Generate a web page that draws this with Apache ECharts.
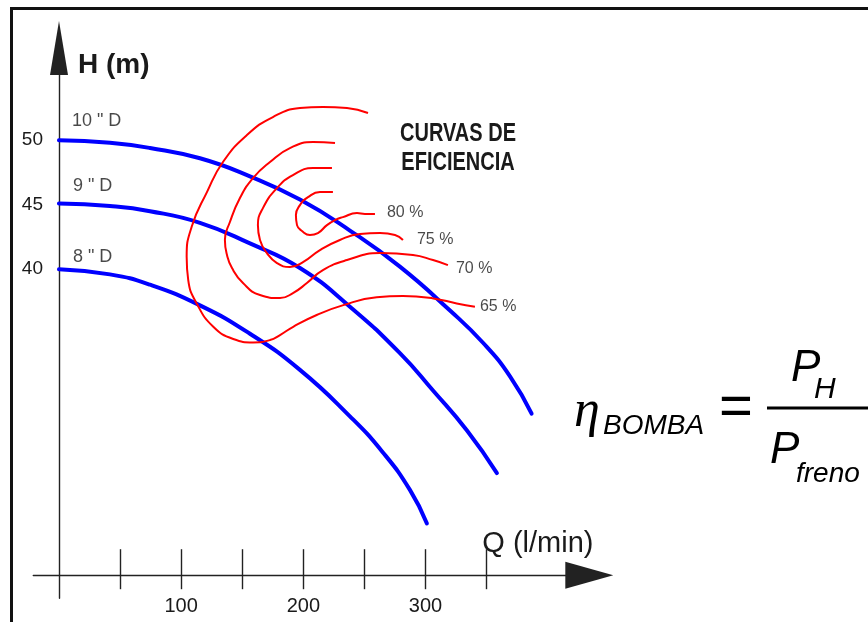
<!DOCTYPE html>
<html>
<head>
<meta charset="utf-8">
<title>Curvas de bomba</title>
<script src="https://cdn.jsdelivr.net/npm/echarts@6/dist/echarts.min.js"></script>
<style>
  html, body { margin: 0; padding: 0; background: #ffffff; }
  #chart { width: 868px; height: 622px; }
</style>
</head>
<body>
<div id="chart"></div>
<script>
// Head curves H(Q) for three impeller diameters: [Q (l/min), H (m)]
const curve10D = [[0, 50], [41.7, 49.8], [74.5, 49.4], [115.4, 48.6], [156.3, 47.2], [197.2, 45.4], [238.1, 43.0], [279.0, 40.2], [320.0, 36.8], [347.0, 34.3], [369.1, 31.7], [386.8, 28.8]];
const curve9D  = [[0, 45.1], [41.7, 44.9], [74.5, 44.5], [115.4, 43.6], [156.3, 42.0], [197.2, 40.1], [238.1, 37.1], [279.0, 33.5], [306.1, 30.6], [333.9, 27.5], [358.4, 24.2]];
const curve8D  = [[0, 40], [41.7, 39.6], [74.5, 38.8], [115.4, 37.2], [156.3, 35.0], [197.2, 32.2], [238.1, 28.6], [265.1, 25.8], [287.2, 22.9], [301.1, 20.3]];
const diameterNames = ['10 " D', '9 " D', '8 " D'];

// Iso-efficiency contours, traced from the open upper end around to the labelled end
const eff80 = [[224.2, 45.98], [213.6, 45.98], [203.8, 45.59], [197.2, 44.97], [193.9, 44.20], [194.8, 43.42], [198.9, 42.96], [205.4, 42.65], [211.9, 42.80], [219.3, 43.42], [225.9, 43.81], [232.4, 44.04], [243.9, 44.35], [250.4, 44.28], [258.6, 44.28]];
const eff75 = [[223.4, 47.84], [207.9, 47.84], [191.5, 47.30], [178.4, 46.29], [166.9, 44.74], [162.8, 43.42], [164.5, 42.27], [170.2, 41.25], [178.4, 40.48], [189.0, 40.17], [199.7, 40.55], [213.6, 41.49], [229.9, 42.27], [246.3, 42.73], [262.7, 42.80], [275.0, 42.65], [281.5, 42.27]];
const eff70 = [[225.9, 49.78], [207.9, 49.86], [189.0, 49.39], [172.7, 48.31], [158.8, 47.07], [148.1, 45.52], [139.9, 43.66], [135.8, 42.27], [137.5, 41.10], [141.6, 40.09], [150.6, 38.93], [164.5, 38.00], [180.9, 37.77], [191.5, 38.15], [202.9, 38.93], [216.0, 39.94], [235.7, 40.71], [262.7, 41.25], [289.7, 41.10], [306.1, 40.71], [318.3, 40.32]];
const eff65 = [[252.9, 52.11], [235.7, 52.49], [216.0, 52.57], [197.2, 52.49], [175.1, 51.80], [153.8, 50.40], [134.2, 48.31], [121.1, 45.98], [108.6, 43.29], [104.5, 40.97], [105.8, 39.16], [112.7, 37.35], [126.3, 35.54], [142.6, 34.59], [159.0, 34.33], [172.7, 34.51], [180.9, 34.90], [191.7, 35.54], [210.9, 36.45], [232.7, 37.22], [260.0, 37.82], [281.5, 37.92], [306.3, 37.74], [325.5, 37.35], [340.4, 37.09]];
const effNames = ['80 %', '75 %', '70 %', '65 %'];

// Axis marks
const xTickValues = [50, 100, 150, 200, 250, 300, 350];
const xLabelValues = [100, 200, 300];
const yLabelValues = [40, 45, 50];

const headCurves = [curve10D, curve9D, curve8D];
const effCurves = [eff80, eff75, eff70, eff65];

// Label placement (style only)
const diameterLabelOffsets = [[13, -19], [14, -17], [14, -12]];
const effLabelOffsets = [[12, -1], [14, 0], [8, 3], [5, 0]];

const SANS = "'Liberation Sans', Arial, Helvetica, sans-serif";
const INK = '#1a1a1a';
const AXIS = '#222222';

const X_MIN = -21, X_MAX = 434;
const Y_MIN = 14.5, Y_MAX = 57.15;
const GRID_LEFT = 33.3;
const ORIGIN_X = 59;

const chart = echarts.init(document.getElementById('chart'), null, { renderer: 'canvas' });

const series = [];

headCurves.forEach((pts, i) => {
  series.push({
    name: diameterNames[i],
    type: 'line',
    data: pts,
    smooth: 0.5,
    showSymbol: false,
    silent: true,
    lineStyle: { color: '#0000ff', width: 4, cap: 'round' },
    z: 3
  });
});

effCurves.forEach((pts, i) => {
  series.push({
    name: effNames[i],
    type: 'line',
    data: pts,
    smooth: 0.5,
    showSymbol: false,
    silent: true,
    lineStyle: { color: '#ff0000', width: 2 },
    z: 4
  });
});

// Text on the curves: diameter names at the start, efficiencies at the end
series.push({
  type: 'scatter',
  silent: true,
  symbolSize: 0,
  z: 6,
  data: headCurves.map((pts, i) => ({
    value: pts[0],
    label: {
      show: true,
      formatter: diameterNames[i],
      position: 'right',
      distance: diameterLabelOffsets[i][0],
      offset: [0, diameterLabelOffsets[i][1]],
      color: INK,
      fontFamily: SANS,
      fontSize: 18
    }
  })).concat(effCurves.map((pts, i) => ({
    value: pts[pts.length - 1],
    label: {
      show: true,
      formatter: effNames[i],
      position: 'right',
      distance: effLabelOffsets[i][0],
      offset: [0, effLabelOffsets[i][1]],
      color: INK,
      fontFamily: SANS,
      fontSize: 16
    }
  })))
});

const xAxisBase = {
  type: 'value',
  min: X_MIN,
  max: X_MAX,
  position: 'bottom',
  offset: -23,
  splitLine: { show: false }
};

const option = {
  animation: false,
  backgroundColor: '#ffffff',
  grid: {
    left: GRID_LEFT,
    right: 278.7,
    top: 48,
    bottom: 23.8,
    outerBoundsMode: 'none',
    containLabel: false
  },
  xAxis: [
    Object.assign({}, xAxisBase, {
      axisLine: {
        show: true,
        onZero: false,
        symbol: ['none', 'triangle'],
        symbolSize: [27, 48],
        lineStyle: { color: AXIS, width: 1.4 }
      },
      axisTick: {
        show: true,
        inside: false,
        length: 14,
        customValues: xTickValues,
        lineStyle: { color: AXIS, width: 1.4 }
      },
      axisLabel: {
        show: true,
        customValues: xLabelValues,
        margin: 21,
        color: INK,
        fontFamily: SANS,
        fontSize: 20
      },
      name: 'Q (l/min)',
      nameLocation: 'end',
      nameGap: -107,
      nameTextStyle: {
        color: INK,
        fontFamily: SANS,
        fontSize: 29,
        align: 'left',
        verticalAlign: 'bottom',
        padding: [0, 0, 17, 0]
      }
    }),
    Object.assign({}, xAxisBase, {
      axisLine: { show: false, onZero: false },
      axisTick: {
        show: true,
        inside: true,
        length: 26,
        customValues: xTickValues,
        lineStyle: { color: AXIS, width: 1.4 }
      },
      axisLabel: { show: false }
    })
  ],
  yAxis: {
    type: 'value',
    min: Y_MIN,
    max: Y_MAX,
    position: 'left',
    // vertical axis sits at Q = 0, inside the grid
    offset: GRID_LEFT - ORIGIN_X,
    splitLine: { show: false },
    axisLine: {
      show: true,
      onZero: false,
      symbol: ['none', 'triangle'],
      symbolSize: [18, 54],
      lineStyle: { color: AXIS, width: 1.4 }
    },
    axisTick: { show: false },
    axisLabel: {
      show: true,
      customValues: yLabelValues,
      margin: 16,
      color: INK,
      fontFamily: SANS,
      fontSize: 19
    },
    name: 'H (m)',
    nameLocation: 'end',
    nameGap: -17,
    nameTextStyle: {
      color: INK,
      fontFamily: SANS,
      fontSize: 28,
      fontWeight: 'bold',
      align: 'left',
      verticalAlign: 'middle',
      padding: [0, 0, 0, 19]
    }
  },
  series: series,
  graphic: [
    // page frame
    {
      type: 'rect',
      silent: true,
      shape: { x: 11.5, y: 8.5, width: 900, height: 700 },
      style: { fill: 'none', stroke: '#111111', lineWidth: 3 },
      z: 10
    },
    // contour title, condensed horizontally
    {
      type: 'text',
      silent: true,
      x: 458, y: 134, scaleX: 0.8,
      style: { text: 'CURVAS DE', x: 0, y: 0, align: 'center', verticalAlign: 'middle', fill: INK, font: 'bold 25px ' + SANS },
      z: 10
    },
    {
      type: 'text',
      silent: true,
      x: 458, y: 163, scaleX: 0.8,
      style: { text: 'EFICIENCIA', x: 0, y: 0, align: 'center', verticalAlign: 'middle', fill: INK, font: 'bold 25px ' + SANS },
      z: 10
    },
    // efficiency formula
    {
      type: 'group',
      silent: true,
      z: 10,
      children: [
        { type: 'text', style: { text: 'η', x: 574, y: 412, align: 'left', verticalAlign: 'middle', fill: '#000', font: "italic 52px 'Liberation Serif', serif" } },
        { type: 'text', style: { text: 'BOMBA', x: 603, y: 426, align: 'left', verticalAlign: 'middle', fill: '#000', font: "italic 28px 'Liberation Sans', Arial, sans-serif" } },
        { type: 'text', style: { text: '=', x: 719, y: 409, align: 'left', verticalAlign: 'middle', fill: '#000', font: "58px 'Liberation Sans', Arial, sans-serif" } },
        { type: 'rect', shape: { x: 767, y: 406.5, width: 110, height: 3 }, style: { fill: '#000' } },
        { type: 'text', style: { text: 'P', x: 791, y: 369, align: 'left', verticalAlign: 'middle', fill: '#000', font: "italic 44px 'Liberation Sans', Arial, sans-serif" } },
        { type: 'text', style: { text: 'H', x: 814, y: 390, align: 'left', verticalAlign: 'middle', fill: '#000', font: "italic 30px 'Liberation Sans', Arial, sans-serif" } },
        { type: 'text', style: { text: 'P', x: 770, y: 451, align: 'left', verticalAlign: 'middle', fill: '#000', font: "italic 44px 'Liberation Sans', Arial, sans-serif" } },
        { type: 'text', style: { text: 'freno', x: 796, y: 474, align: 'left', verticalAlign: 'middle', fill: '#000', font: "italic 28px 'Liberation Sans', Arial, sans-serif" } }
      ]
    }
  ]
};

chart.setOption(option);
</script>
</body>
</html>
